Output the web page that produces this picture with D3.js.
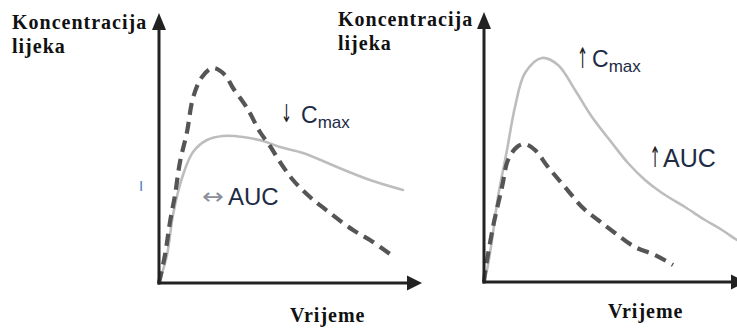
<!DOCTYPE html>
<html>
<head>
<meta charset="utf-8">
<script src="https://cdn.jsdelivr.net/npm/d3@7"></script>
<style>
  html, body { margin: 0; padding: 0; background: #fff; }
  svg { display: block; }
</style>
</head>
<body>
<svg id="chart" width="737" height="329"></svg>
<script>
// Concentration–time profiles (time in arbitrary units, concentration in %)
const leftDashedT = [0, 0.3, 0.55, 0.8, 1.05, 1.4, 1.7, 2.15, 2.7, 3.3, 3.7, 4.4, 5.05, 5.55, 6.05, 6.7, 7.55, 8.55, 9.7, 10.55, 11.55];
const leftDashedC = [0, 11.2, 24.4, 35.2, 48.4, 60.4, 74, 82.4, 86, 83.2, 78, 70, 60.4, 54.8, 48.4, 41.2, 34.4, 28, 21.2, 17.2, 11.6];

const leftSolidT = [0, 0.4, 0.7, 1.15, 1.7, 2.4, 3.2, 4.2, 5.2, 6.05, 7.2, 8.9, 10.55, 12.2];
const leftSolidC = [0, 11.2, 27.2, 42, 52.4, 57.2, 58.8, 58.4, 56.8, 54.4, 52, 46.4, 41.2, 37.2];

const rightSolidT = [0, 0.15, 0.4, 0.7, 1.15, 1.55, 2.05, 2.9, 3.7, 4.55, 5.4, 6.4, 7.2, 8.05, 8.9, 10.05, 11.05, 11.9, 12.65, 13.1];
const rightSolidC = [0, 4.8, 16.8, 34, 52.8, 70, 83.6, 89.6, 86.8, 76.8, 66, 55.6, 47.6, 40.8, 35.6, 30, 24.8, 20.8, 16.8, 14.8];

const rightDashedT = [0, 0.05, 0.45, 0.9, 1.2, 1.65, 2.05, 2.55, 3.2, 4.05, 4.9, 5.7, 6.55, 7.55, 8.55, 9.45];
const rightDashedC = [0, 3.6, 22, 38, 48.8, 54, 55.2, 52.8, 46, 38, 30, 24.8, 19.6, 14, 10.8, 6.8];

// Axis titles and annotations
const yTitleLines = ["Koncentracija", "lijeka"];
const xTitle = "Vrijeme";

const svg = d3.select("#chart");
const zip = (ts, cs) => ts.map((t, i) => ({ t, c: cs[i] }));

const AXIS = "#222";
const TEXT = "#1d2b45";
const sans = "'Liberation Sans', Arial, sans-serif";
const arrowFont = "'DejaVu Sans', sans-serif";

function panel(cfg) {
  const x = d3.scaleLinear().domain([0, cfg.xMax]).range([cfg.x0, cfg.x1]);
  const y = d3.scaleLinear().domain([0, cfg.yMax]).range([cfg.y0, cfg.y1]);
  const g = svg.append("g");

  const line = d3.line().x(d => x(d.t)).y(d => y(d.c)).curve(d3.curveCatmullRom.alpha(0.5));

  // solid profile
  g.append("path")
    .datum(zip(cfg.solidT, cfg.solidC))
    .attr("d", line)
    .attr("fill", "none")
    .attr("stroke", "#bdbdbd")
    .attr("stroke-width", 2.6)
    .attr("stroke-linecap", "round");

  // dashed profile
  g.append("path")
    .datum(zip(cfg.dashedT, cfg.dashedC))
    .attr("d", line)
    .attr("fill", "none")
    .attr("stroke", "#555")
    .attr("stroke-width", 4.2)
    .attr("stroke-dasharray", "12,7");

  // axes with arrowheads
  const ox = x(0), oy = y(0);
  const yTop = y.range()[1], xEnd = x.range()[1];
  g.append("line")
    .attr("x1", ox).attr("y1", oy + 1.5).attr("x2", ox).attr("y2", yTop + 15)
    .attr("stroke", AXIS).attr("stroke-width", 3);
  g.append("path")
    .attr("d", `M${ox},${yTop} L${ox - 7},${yTop + 17} L${ox + 7},${yTop + 17} Z`)
    .attr("fill", AXIS);
  g.append("line")
    .attr("x1", ox - 1.5).attr("y1", oy).attr("x2", xEnd - 13).attr("y2", oy)
    .attr("stroke", AXIS).attr("stroke-width", 3);
  g.append("path")
    .attr("d", `M${xEnd},${oy} L${xEnd - 15},${oy - 7.5} L${xEnd - 15},${oy + 7.5} Z`)
    .attr("fill", AXIS);

  // axis titles
  const serif = "'Liberation Serif', 'Times New Roman', serif";
  yTitleLines.forEach((s, i) => {
    g.append("text")
      .attr("x", cfg.yTitleX).attr("y", cfg.yTitleY + i * 24)
      .attr("font-family", serif).attr("font-weight", "bold")
      .attr("font-size", 20).attr("letter-spacing", 1)
      .attr("fill", "#111")
      .text(s);
  });
  g.append("text")
    .attr("x", cfg.xTitleX).attr("y", cfg.xTitleY)
    .attr("font-family", serif).attr("font-weight", "bold")
    .attr("font-size", 20).attr("letter-spacing", 1)
    .attr("fill", "#111")
    .text(xTitle);

  return g;
}

// tall, narrow arrow glyph centred on x, bottom on y
function arrow(g, glyph, x, y, sy) {
  g.append("text")
    .attr("transform", `translate(${x},${y}) scale(0.7,${sy})`)
    .attr("text-anchor", "middle")
    .attr("font-family", arrowFont).attr("font-size", 19)
    .attr("fill", "#222")
    .text(glyph);
}

function cmax(g, glyph, ax, ay, sy, bx, by) {
  arrow(g, glyph, ax, ay, sy);
  const t = g.append("text")
    .attr("x", bx).attr("y", by)
    .attr("font-family", sans).attr("font-size", 23)
    .attr("fill", TEXT);
  t.append("tspan").text("C");
  t.append("tspan").attr("dy", 5).attr("font-size", 17).text("max");
}

// Left: lower peak, unchanged exposure
const left = panel({
  xMax: 13.15, yMax: 108, x0: 159, x1: 422, y0: 283, y1: 13,
  solidT: leftSolidT, solidC: leftSolidC, dashedT: leftDashedT, dashedC: leftDashedC,
  yTitleX: 12, yTitleY: 29, xTitleX: 290, xTitleY: 322
});
cmax(left, "↓", 286.5, 122, 1.3, 301, 123);
left.append("text")
  .attr("transform", "translate(202,204) scale(1,0.85)")
  .attr("font-family", arrowFont).attr("font-size", 26)
  .attr("fill", "#8a8f99")
  .text("↔");
left.append("text")
  .attr("x", 228).attr("y", 205)
  .attr("font-family", sans).attr("font-size", 24)
  .attr("fill", TEXT)
  .text("AUC");
left.append("text")
  .attr("x", 139).attr("y", 191)
  .attr("font-family", sans).attr("font-size", 15)
  .attr("fill", "#4d7fbf")
  .text("I");

// Right: higher peak and higher exposure
const right = panel({
  xMax: 13.1, yMax: 108, x0: 484, x1: 746, y0: 282, y1: 12,
  solidT: rightSolidT, solidC: rightSolidC, dashedT: rightDashedT, dashedC: rightDashedC,
  yTitleX: 338, yTitleY: 26, xTitleX: 608, xTitleY: 318
});
cmax(right, "↑", 582.5, 68, 1.5, 592, 67);
arrow(right, "↑", 655, 167, 1.5);
right.append("text")
  .attr("x", 663).attr("y", 167)
  .attr("font-family", sans).attr("font-size", 25)
  .attr("fill", TEXT)
  .text("AUC");
</script>
</body>
</html>
